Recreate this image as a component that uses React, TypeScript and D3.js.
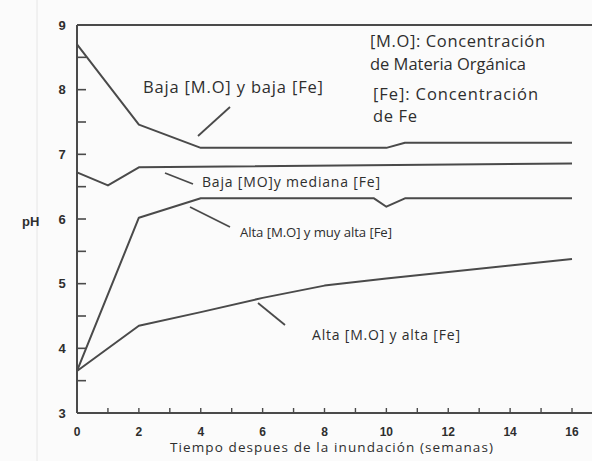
import React from "react";
import * as d3 from "d3";

const W = 592;
const H = 461;

// Series (weeks after flooding, pH)
const weeksA = [0, 2, 4, 10, 10.6, 16];
const lowMOlowFe = [8.7, 7.46, 7.1, 7.1, 7.18, 7.18];

const weeksB = [0, 1, 2, 16];
const lowMOmedFe = [6.72, 6.52, 6.8, 6.86];

const weeksC = [0, 2, 4, 9.6, 10, 10.6, 16];
const highMOveryHighFe = [3.65, 6.02, 6.32, 6.32, 6.19, 6.32, 6.32];

const weeksD = [0, 2, 4, 6, 8, 10, 12, 14, 16];
const highMOhighFe = [3.65, 4.35, 4.56, 4.78, 4.97, 5.08, 5.18, 5.28, 5.38];

const xTickLabels = [0, 2, 4, 6, 8, 10, 12, 14, 16];
const yTickLabels = [3, 4, 5, 6, 7, 8, 9];

const x = d3.scaleLinear().domain([0, 16]).range([77, 572]);
const y = d3.scaleLinear().domain([3, 9]).range([413, 25]);

const line = d3
  .line<[number, number]>()
  .x((d) => x(d[0]))
  .y((d) => y(d[1]));

const zip = (xs: number[], ys: number[]): [number, number][] =>
  xs.map((v, i) => [v, ys[i]]);

const series = [
  zip(weeksA, lowMOlowFe),
  zip(weeksB, lowMOmedFe),
  zip(weeksC, highMOveryHighFe),
  zip(weeksD, highMOhighFe),
];

const ink = "#4a4a4a";
const txt = "#2e2e2e";
const sans = "'Open Sans', 'Liberation Sans', sans-serif";
const bold = "'Liberation Sans', Arial, sans-serif";

type Lbl = { t: string; x: number; y: number; w: number; fs: number };
const labels: Lbl[] = [
  { t: "Baja [M.O] y baja [Fe]", x: 143, y: 93, w: 180, fs: 16.5 },
  { t: "Baja [MO]y mediana [Fe]", x: 202, y: 187, w: 178, fs: 14 },
  { t: "Alta [M.O] y muy alta [Fe]", x: 240, y: 237, w: 152, fs: 13.2 },
  { t: "Alta [M.O] y alta [Fe]", x: 312, y: 340, w: 148, fs: 14 },
  { t: "[M.O]: Concentración", x: 370, y: 47, w: 175, fs: 16.5 },
  { t: "de Materia Orgánica", x: 370, y: 70, w: 156, fs: 16.5 },
  { t: "[Fe]: Concentración", x: 373, y: 100, w: 165, fs: 16.5 },
  { t: "de Fe", x: 373, y: 122, w: 44, fs: 16.5 },
];

export default function App() {
  const xEnd = 592;
  const minorX = d3.range(1, 17, 1);
  const minorY = d3.range(3.5, 9, 0.5);
  return (
    <svg
      width={W}
      height={H}
      style={{ position: "absolute", left: 0, top: 0, background: "#fbfbfb" }}
    >
      {/* faint scan line */}
      <line x1={37} x2={37} y1={0} y2={H} stroke="#e6e6e6" strokeWidth={1} />

      {/* axes frame */}
      <line x1={x(0)} x2={xEnd} y1={y(9)} y2={y(9)} stroke={ink} strokeWidth={2} />
      <line x1={x(0)} x2={xEnd} y1={y(3)} y2={y(3)} stroke={ink} strokeWidth={2} />
      <line x1={x(0)} x2={x(0)} y1={y(9)} y2={y(3)} stroke={ink} strokeWidth={2} />

      {/* y ticks */}
      {minorY.map((v) => (
        <line
          key={"yt" + v}
          x1={x(0)}
          x2={x(0) + 9}
          y1={y(v)}
          y2={y(v)}
          stroke={ink}
          strokeWidth={1.6}
        />
      ))}
      {/* x ticks */}
      {minorX.map((v) => (
        <line
          key={"xt" + v}
          x1={x(v)}
          x2={x(v)}
          y1={y(3)}
          y2={y(3) - 5}
          stroke={ink}
          strokeWidth={1.4}
        />
      ))}

      {/* tick labels */}
      {yTickLabels.map((v) => (
        <text
          key={"yl" + v}
          x={62}
          y={y(v) + 4.5}
          textAnchor="middle"
          fontFamily={bold}
          fontWeight="bold"
          fontSize={13}
          fill={txt}
        >
          {v}
        </text>
      ))}
      {xTickLabels.map((v) => (
        <text
          key={"xl" + v}
          x={x(v)}
          y={436}
          textAnchor="middle"
          fontFamily={bold}
          fontWeight="bold"
          fontSize={12}
          fill={txt}
        >
          {v}
        </text>
      ))}

      <text x={22} y={226} fontFamily={bold} fontWeight="bold" fontSize={13} fill={txt}>
        pH
      </text>
      <text
        x={170}
        y={452}
        fontFamily={sans}
        fontSize={13.5}
        fill={txt}
        textLength={323}
        lengthAdjust="spacing"
      >
        Tiempo despues de la inundación (semanas)
      </text>

      {/* series */}
      {series.map((s, i) => (
        <path
          key={"s" + i}
          d={line(s) || ""}
          fill="none"
          stroke={ink}
          strokeWidth={2}
          strokeLinejoin="round"
        />
      ))}

      {/* annotation leaders */}
      <line x1={230} y1={107} x2={198} y2={136} stroke={ink} strokeWidth={1.8} />
      <line x1={165} y1={173} x2={193} y2={184} stroke={ink} strokeWidth={1.8} />
      <line x1={190} y1={207} x2={230} y2={227} stroke={ink} strokeWidth={1.8} />
      <line x1={258} y1={303} x2={285} y2={325} stroke={ink} strokeWidth={1.8} />

      {/* annotation + legend text */}
      {labels.map((l) => (
        <text
          key={l.t}
          x={l.x}
          y={l.y}
          fontFamily={sans}
          fontSize={l.fs}
          fill={txt}
          textLength={l.w}
          lengthAdjust="spacing"
        >
          {l.t}
        </text>
      ))}
    </svg>
  );
}
